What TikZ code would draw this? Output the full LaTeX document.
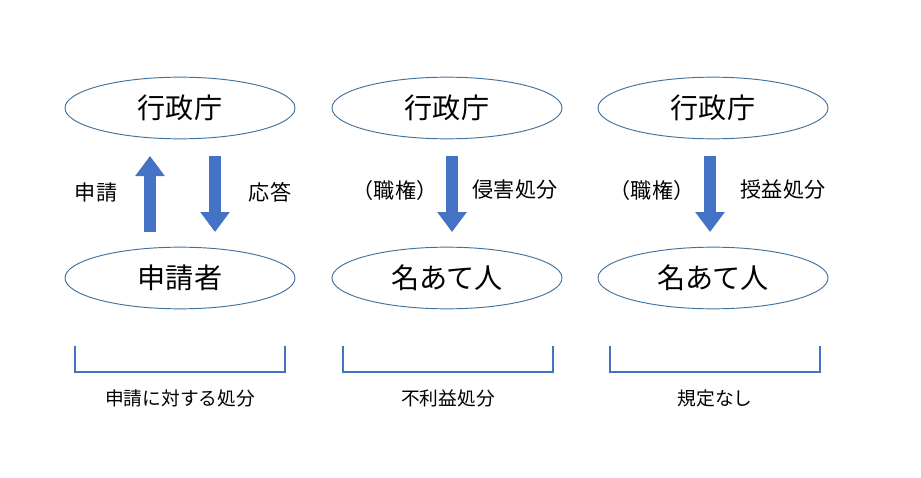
\documentclass[tikz,border=0pt]{standalone}
\usepackage{fontspec}
\setmainfont{Noto Sans CJK JP}
\usetikzlibrary{arrows.meta,positioning,shapes.geometric}
\definecolor{arrowblue}{HTML}{4472C4}
\definecolor{edgeblue}{HTML}{41719C}
\tikzset{
  agency/.style={draw=edgeblue, line width=0.8pt, ellipse, minimum width=6.9cm, minimum height=1.85cm, font=\fontsize{24}{26}\selectfont},
  fat/.style={arrowblue, line width=0.36cm, -{Triangle[width=0.85cm,length=0.6cm]}},
  brace/.style={arrowblue, line width=2.2pt},
  lab/.style={font=\fontsize{18}{20}\selectfont},
  caption/.style={font=\fontsize{16}{18}\selectfont}
}
\begin{document}
\begin{tikzpicture}[x=0.03cm,y=-0.03cm]
\useasboundingbox (0,0) rectangle (921,478);
% ellipses
\node[agency] (g1) at (180,108) {行政庁};
\node[agency] (g2) at (447,108) {行政庁};
\node[agency] (g3) at (713,108) {行政庁};
\node[agency] (p1) at (180,278) {申請者};
\node[agency] (p2) at (447,278) {名あて人};
\node[agency] (p3) at (713,278) {名あて人};
% arrows
\coordinate (a1s) at (150,232); \coordinate (a1e) at (150,156);
\coordinate (a2s) at (215,156); \coordinate (a2e) at (215,232);
\coordinate (a3s) at (452,156); \coordinate (a3e) at (452,232);
\coordinate (a4s) at (710,156); \coordinate (a4e) at (710,232);
\draw[fat] (a1s) -- (a1e);
\draw[fat] (a2s) -- (a2e);
\draw[fat] (a3s) -- (a3e);
\draw[fat] (a4s) -- (a4e);
\node[lab] (l1) at (96,192) {申請};
\node[lab] (l2) at (270,192) {応答};
\node[lab] (l3) at (395,190) {（職権）};
\node[lab] (l4) at (515,190) {侵害処分};
\node[lab] (l5) at (652,190) {（職権）};
\node[lab] (l6) at (783,190) {授益処分};
% brackets
\foreach \x in {75,343,610} {
  \draw[brace] (\x,346) -- (\x,372) -- (\x+210,372) -- (\x+210,346);
}
\node[caption] (c1) at (180,398) {申請に対する処分};
\node[caption] (c2) at (448,398) {不利益処分};
\node[caption] (c3) at (715,398) {規定なし};
\end{tikzpicture}
\end{document}
